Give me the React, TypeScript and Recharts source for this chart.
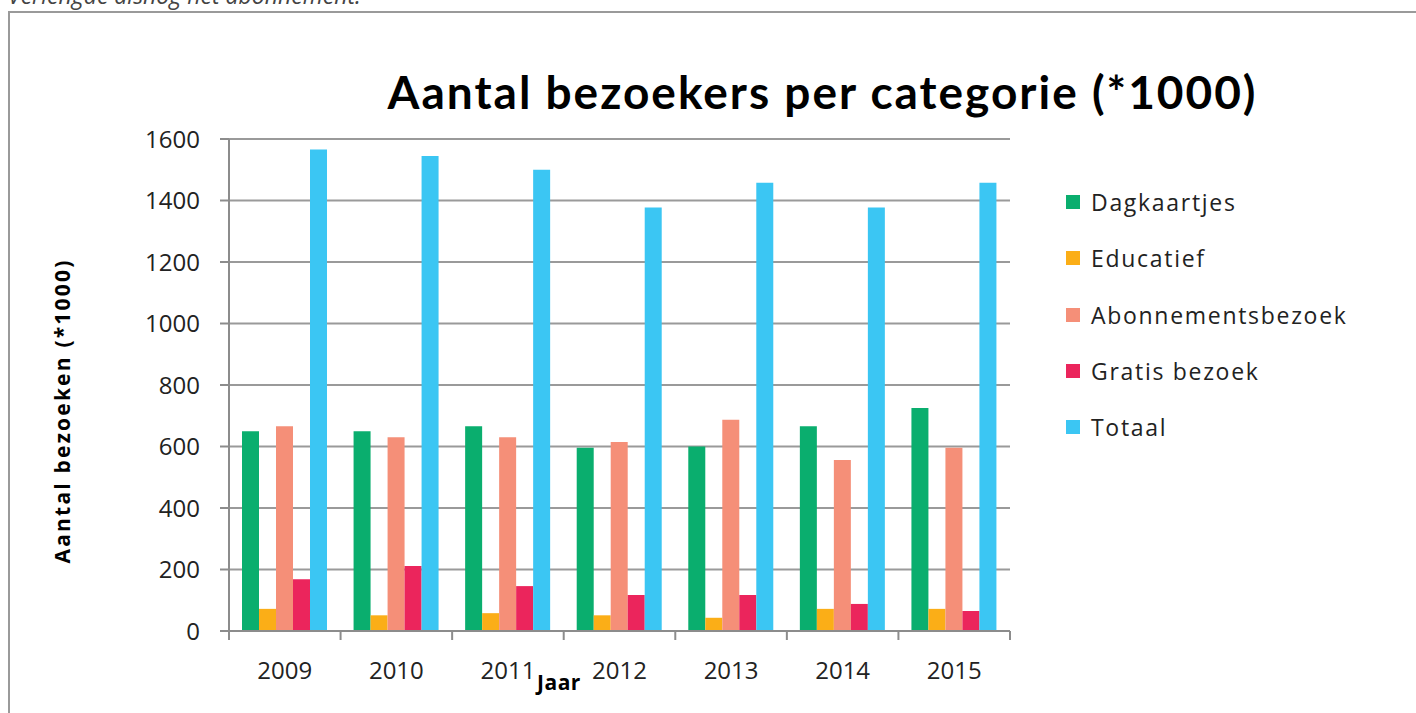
import React from 'react';
import { BarChart, Bar, XAxis, YAxis, CartesianGrid, Legend } from 'recharts';

// Aantal bezoekers (*1000) per jaar
const years = ['2009', '2010', '2011', '2012', '2013', '2014', '2015'];
const dagkaartjes = [650, 650, 666, 596, 600, 666, 725];
const educatief = [72, 51, 58, 51, 43, 72, 72];
const abonnementsbezoek = [666, 630, 630, 615, 687, 556, 596];
const gratisBezoek = [168, 211, 146, 117, 117, 88, 65];
const totaal = [1566, 1545, 1500, 1377, 1458, 1377, 1458];
const yTicks = [0, 200, 400, 600, 800, 1000, 1200, 1400, 1600];

const series = [
  { key: 'dagkaartjes', name: 'Dagkaartjes', color: '#0AAE6E' },
  { key: 'educatief', name: 'Educatief', color: '#FBAE17' },
  { key: 'abonnementsbezoek', name: 'Abonnementsbezoek', color: '#F58F78' },
  { key: 'gratisBezoek', name: 'Gratis bezoek', color: '#EB255C' },
  { key: 'totaal', name: 'Totaal', color: '#3BC6F3' },
];

const data = years.map((year, i) => ({
  year,
  dagkaartjes: dagkaartjes[i],
  educatief: educatief[i],
  abonnementsbezoek: abonnementsbezoek[i],
  gratisBezoek: gratisBezoek[i],
  totaal: totaal[i],
}));

const PLOT_LEFT = 229;
const PLOT_RIGHT = 1010;
const PLOT_TOP = 139;
const PLOT_BOTTOM = 631;
const band = (PLOT_RIGHT - PLOT_LEFT) / years.length;
const axisColor = '#8c8c8c';
const textFont = '"Open Sans", sans-serif';

// x-as: streepjes tussen de jaren, label in het midden
const YearTick = (props: any) => {
  const { x, y, payload, index } = props;
  const half = band / 2;
  return (
    <g>
      <line x1={x - half} x2={x - half} y1={y} y2={y + 9} stroke={axisColor} strokeWidth={2} />
      {index === years.length - 1 && (
        <line x1={x + half} x2={x + half} y1={y} y2={y + 9} stroke={axisColor} strokeWidth={2} />
      )}
      <text x={x} y={y + 48} textAnchor="middle" fill="#222" fontSize={24} fontFamily={textFont}>
        {payload.value}
      </text>
    </g>
  );
};

const LegendList = () => (
  <div style={{ fontFamily: textFont, fontSize: 23, color: '#222', letterSpacing: 1.7 }}>
    {series.map((s) => (
      <div key={s.key} style={{ display: 'flex', alignItems: 'center', height: 56.3 }}>
        <span style={{ width: 14, height: 14, background: s.color, marginRight: 11 }} />
        <span>{s.name}</span>
      </div>
    ))}
  </div>
);

export default function App() {
  return (
    <div style={{ position: 'absolute', left: 0, top: 0, width: 1416, height: 713, overflow: 'hidden', background: '#fff' }}>
      <div
        style={{
          position: 'absolute', left: 8, top: -16, fontFamily: textFont, fontStyle: 'italic',
          fontSize: 23, lineHeight: '23px', color: '#444', whiteSpace: 'nowrap',
        }}
      >
        Verlengde alsnog het abonnement.
      </div>
      <div
        style={{
          position: 'absolute', left: 8, top: 11, width: 1500, height: 800,
          border: '2px solid #9a9a9a', boxSizing: 'border-box',
        }}
      />
      <div
        style={{
          position: 'absolute', left: 0, width: 1416, top: 62, textAlign: 'center', paddingLeft: 229,
          boxSizing: 'border-box', fontFamily: 'Lato, sans-serif', fontWeight: 700, fontSize: 46, color: '#000',
          whiteSpace: 'nowrap', lineHeight: '60px', letterSpacing: 2,
        }}
      >
        Aantal bezoekers per categorie (*1000)
      </div>
      <div
        style={{
          position: 'absolute', left: 62, top: 411, transform: 'translate(-50%, -50%) rotate(-90deg)',
          fontFamily: textFont, fontWeight: 700, fontSize: 21, whiteSpace: 'nowrap', color: '#000',
          letterSpacing: 2.2,
        }}
      >
        Aantal bezoeken (*1000)
      </div>
      <div
        style={{
          position: 'absolute', left: 537, top: 668, fontFamily: textFont, fontWeight: 700, fontSize: 21,
          color: '#000', letterSpacing: 0.5,
        }}
      >
        Jaar
      </div>
      <div style={{ position: 'absolute', left: 0, top: 0 }}>
        <BarChart
          width={1416}
          height={713}
          data={data}
          margin={{ top: PLOT_TOP, right: 1416 - PLOT_RIGHT, bottom: 713 - PLOT_BOTTOM - 60, left: PLOT_LEFT - 80 }}
          barCategoryGap={13}
          barGap={0}
        >
          <CartesianGrid vertical={false} stroke="#9a9a9a" strokeWidth={2} />
          <XAxis
            dataKey="year"
            height={60}
            axisLine={{ stroke: axisColor, strokeWidth: 2 }}
            tickLine={false}
            tickSize={0}
            tickMargin={0}
            interval={0}
            tick={<YearTick />}
          />
          <YAxis
            width={80}
            domain={[0, 1600]}
            ticks={yTicks}
            interval={0}
            axisLine={{ stroke: axisColor, strokeWidth: 2 }}
            tickLine={{ stroke: axisColor, strokeWidth: 2 }}
            tickSize={9}
            tickMargin={20}
            tick={{ fill: '#222', fontSize: 24, fontFamily: textFont }}
          />
          <Legend
            layout="vertical"
            align="center"
            verticalAlign="middle"
            content={<LegendList />}
            wrapperStyle={{ position: 'absolute', left: 1066, top: 174, width: 340 }}
          />
          {series.map((s) => (
            <Bar key={s.key} dataKey={s.key} name={s.name} fill={s.color} isAnimationActive={false} />
          ))}
        </BarChart>
      </div>
    </div>
  );
}
